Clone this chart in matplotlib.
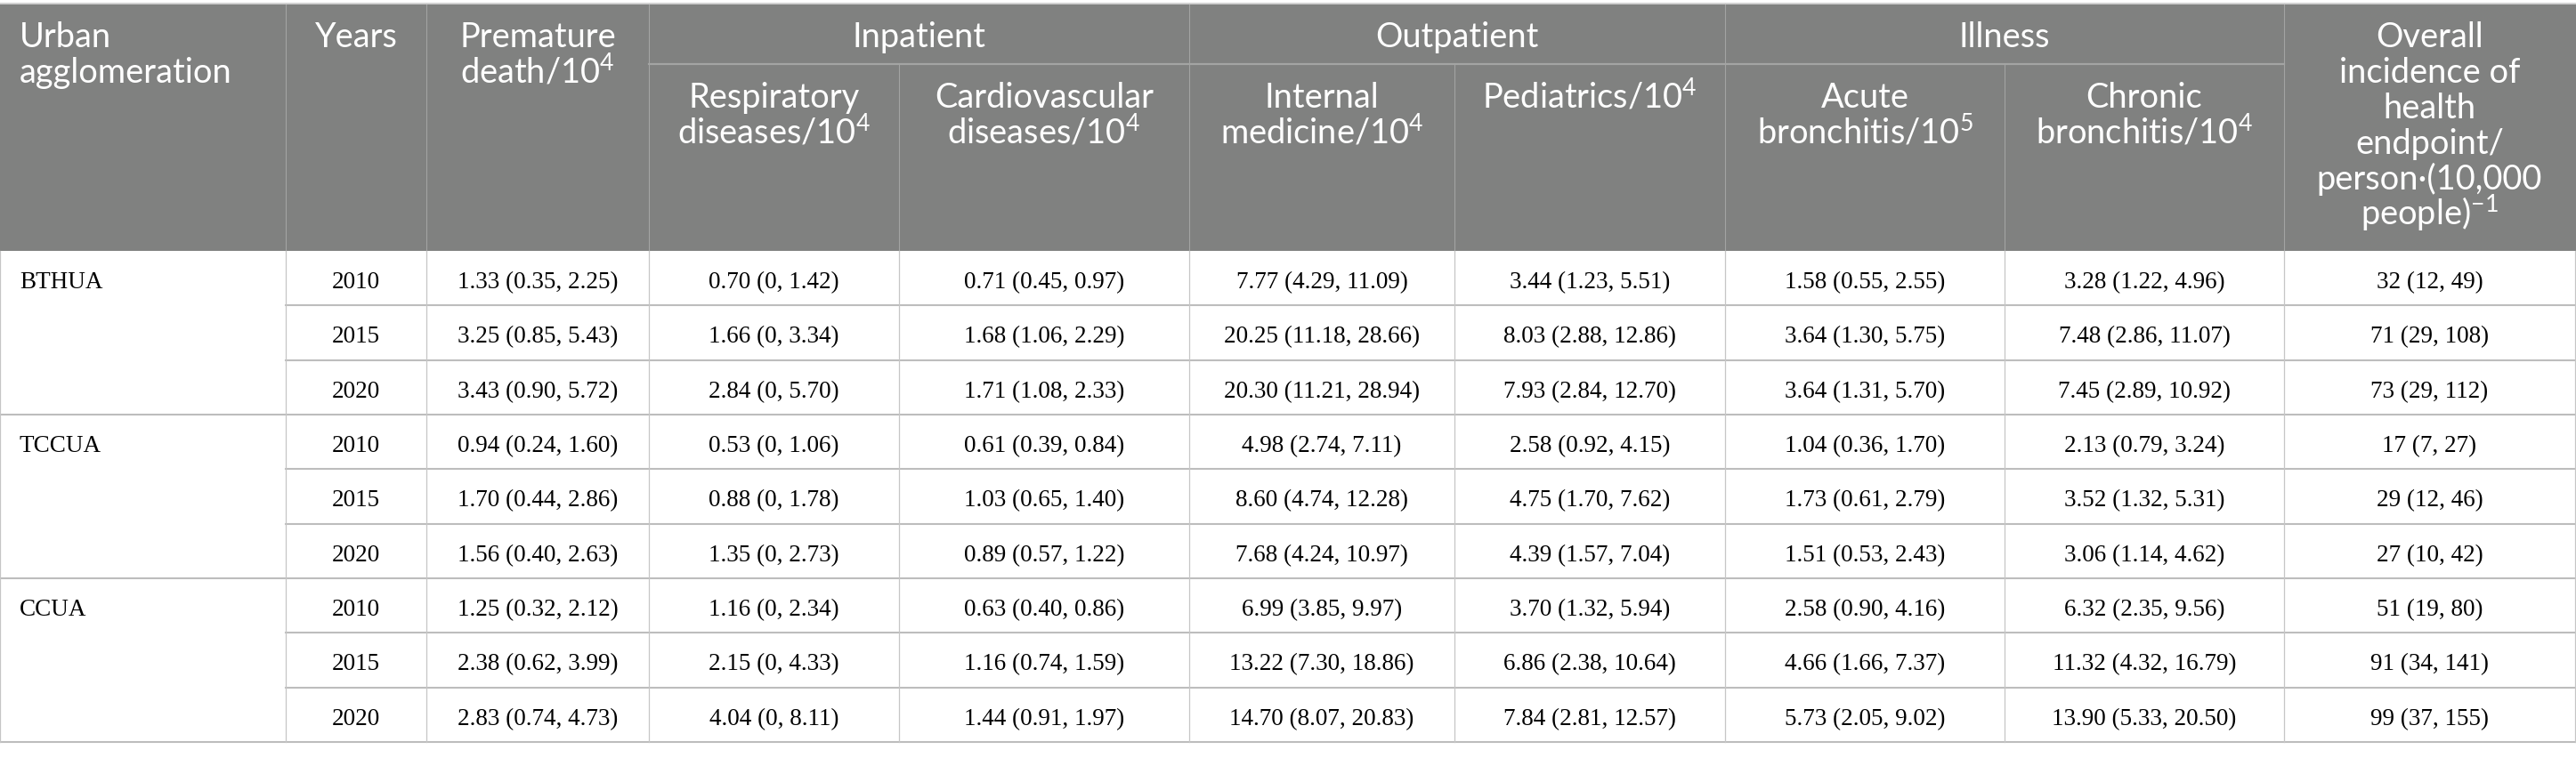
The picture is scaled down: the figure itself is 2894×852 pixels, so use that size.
import matplotlib.pyplot as plt

# ---- table content ----
groups = ["BTHUA", "TCCUA", "CCUA"]
years = ["2010", "2015", "2020"]

premature_death = ["1.33 (0.35, 2.25)", "3.25 (0.85, 5.43)", "3.43 (0.90, 5.72)",
                   "0.94 (0.24, 1.60)", "1.70 (0.44, 2.86)", "1.56 (0.40, 2.63)",
                   "1.25 (0.32, 2.12)", "2.38 (0.62, 3.99)", "2.83 (0.74, 4.73)"]
respiratory = ["0.70 (0, 1.42)", "1.66 (0, 3.34)", "2.84 (0, 5.70)",
               "0.53 (0, 1.06)", "0.88 (0, 1.78)", "1.35 (0, 2.73)",
               "1.16 (0, 2.34)", "2.15 (0, 4.33)", "4.04 (0, 8.11)"]
cardiovascular = ["0.71 (0.45, 0.97)", "1.68 (1.06, 2.29)", "1.71 (1.08, 2.33)",
                  "0.61 (0.39, 0.84)", "1.03 (0.65, 1.40)", "0.89 (0.57, 1.22)",
                  "0.63 (0.40, 0.86)", "1.16 (0.74, 1.59)", "1.44 (0.91, 1.97)"]
internal_med = ["7.77 (4.29, 11.09)", "20.25 (11.18, 28.66)", "20.30 (11.21, 28.94)",
                "4.98 (2.74, 7.11)", "8.60 (4.74, 12.28)", "7.68 (4.24, 10.97)",
                "6.99 (3.85, 9.97)", "13.22 (7.30, 18.86)", "14.70 (8.07, 20.83)"]
pediatrics = ["3.44 (1.23, 5.51)", "8.03 (2.88, 12.86)", "7.93 (2.84, 12.70)",
              "2.58 (0.92, 4.15)", "4.75 (1.70, 7.62)", "4.39 (1.57, 7.04)",
              "3.70 (1.32, 5.94)", "6.86 (2.38, 10.64)", "7.84 (2.81, 12.57)"]
acute_bronch = ["1.58 (0.55, 2.55)", "3.64 (1.30, 5.75)", "3.64 (1.31, 5.70)",
                "1.04 (0.36, 1.70)", "1.73 (0.61, 2.79)", "1.51 (0.53, 2.43)",
                "2.58 (0.90, 4.16)", "4.66 (1.66, 7.37)", "5.73 (2.05, 9.02)"]
chronic_bronch = ["3.28 (1.22, 4.96)", "7.48 (2.86, 11.07)", "7.45 (2.89, 10.92)",
                  "2.13 (0.79, 3.24)", "3.52 (1.32, 5.31)", "3.06 (1.14, 4.62)",
                  "6.32 (2.35, 9.56)", "11.32 (4.32, 16.79)", "13.90 (5.33, 20.50)"]
overall = ["32 (12, 49)", "71 (29, 108)", "73 (29, 112)",
           "17 (7, 27)", "29 (12, 46)", "27 (10, 42)",
           "51 (19, 80)", "91 (34, 141)", "99 (37, 155)"]

top_headers = [["Urban", "agglomeration"], ["Years"], ["Premature", "death/10$^{4}$"]]
group_headers = ["Inpatient", "Outpatient", "Illness"]
sub_headers = [["Respiratory", "diseases/10$^{4}$"], ["Cardiovascular", "diseases/10$^{4}$"],
               ["Internal", "medicine/10$^{4}$"], ["Pediatrics/10$^{4}$"],
               ["Acute", "bronchitis/10$^{5}$"], ["Chronic", "bronchitis/10$^{4}$"]]
last_header = ["Overall", "incidence of", "health", "endpoint/",
               "person\u00b7(10,000", "people)$^{-1}$"]

value_cols = [premature_death, respiratory, cardiovascular, internal_med,
              pediatrics, acute_bronch, chronic_bronch, overall]

# ---- layout (pixels) ----
W, H = 2894, 852
col_x = [0, 321, 479, 729, 1010, 1336, 1634, 1938, 2252, 2566, 2893]
head_top, sub_y, head_bot = 5, 72, 282
row_h = 61.33
header_bg = "#808180"
head_line = "#a3a4a3"
body_line = "#bdbdbd"

plt.rcParams["mathtext.fontset"] = "custom"
plt.rcParams["mathtext.rm"] = "Lato"
plt.rcParams["mathtext.it"] = "Lato:italic"
plt.rcParams["mathtext.bf"] = "Lato:bold"

fig = plt.figure(figsize=(W / 100, H / 100), dpi=100)
ax = fig.add_axes([0, 0, 1, 1])
ax.set_xlim(0, W)
ax.set_ylim(H, 0)
ax.axis("off")

hfont = dict(family=["Lato", "DejaVu Sans"], size=27.4, color="white")
bfont = dict(family=["Liberation Serif", "DejaVu Serif"], size=19.5, color="black")

# header background
ax.add_patch(plt.Rectangle((0, head_top), W, head_bot - head_top, color=header_bg, lw=0))
ax.plot([0, W], [4, 4], color="#c8c8c8", lw=1.2)

# header lines
for i in [1, 2, 3, 5, 7, 9]:
    ax.plot([col_x[i], col_x[i]], [head_top, head_bot], color=head_line, lw=0.8)
for i in [4, 6, 8]:
    ax.plot([col_x[i], col_x[i]], [sub_y, head_bot], color=head_line, lw=0.8)
ax.plot([col_x[3], col_x[9]], [sub_y, sub_y], color=head_line, lw=1.6)

def centre(i, j):
    return (col_x[i] + col_x[j]) / 2

# header text
base0, lsp = 53, 40
for k, line in enumerate(top_headers[0]):
    ax.text(22, base0 + k * lsp, line, ha="left", va="baseline", **hfont)
for c, lines in [(1, top_headers[1]), (2, top_headers[2])]:
    for k, line in enumerate(lines):
        ax.text(centre(c, c + 1), base0 + k * lsp, line, ha="center", va="baseline", **hfont)
for g, name in enumerate(group_headers):
    ax.text(centre(3 + 2 * g, 5 + 2 * g), base0, name, ha="center", va="baseline", **hfont)
for s, lines in enumerate(sub_headers):
    for k, line in enumerate(lines):
        ax.text(centre(3 + s, 4 + s), 121 + k * lsp, line, ha="center", va="baseline", **hfont)
for k, line in enumerate(last_header):
    ax.text(centre(9, 10), base0 + k * lsp, line, ha="center", va="baseline", **hfont)

# body
n_rows = len(groups) * len(years)
for r in range(n_rows):
    top = head_bot + r * row_h
    base = top + 42
    if r % len(years) == 0:
        ax.text(22, base, groups[r // len(years)], ha="left", va="baseline", **bfont)
    ax.text(centre(1, 2), base, years[r % len(years)], ha="center", va="baseline", **bfont)
    for c, col in enumerate(value_cols):
        ax.text(centre(2 + c, 3 + c), base, col[r], ha="center", va="baseline", **bfont)
    bottom = top + row_h
    x0 = 0 if (r + 1) % len(years) == 0 else col_x[1]
    ax.plot([x0, W], [bottom, bottom], color=body_line, lw=1.5)

body_bot = head_bot + n_rows * row_h
for x in col_x:
    ax.plot([x, x], [head_bot, body_bot], color="#c6c6c6", lw=0.9)

fig.savefig("out.png", dpi=100, facecolor="white")
